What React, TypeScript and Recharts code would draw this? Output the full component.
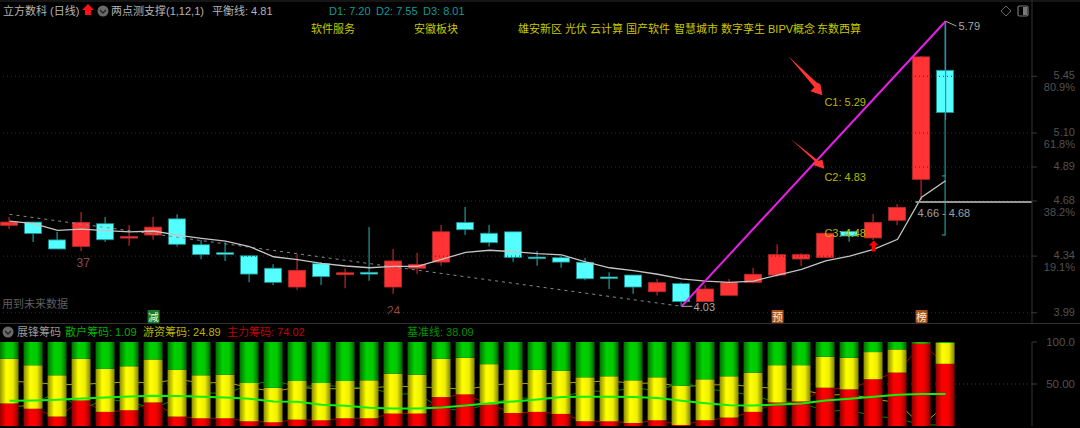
import React from "react";
import { ComposedChart, Bar, Line, XAxis, YAxis, ReferenceLine, ReferenceDot } from "recharts";

const FONT = '"Liberation Sans","Noto Sans CJK SC",sans-serif';

// candles
const opens = [4.53,4.55,4.44,4.40,4.54,4.453,4.47,4.57,4.41,4.361,4.342,4.265,4.149,4.293,4.225,4.24,4.149,4.265,4.303,4.548,4.481,4.49,4.334,4.33,4.302,4.211,4.223,4.12,4.17,4.059,4.098,4.178,4.223,4.322,4.332,4.493,4.452,4.561,4.814,5.487];
const closes = [4.55,4.48,4.384,4.548,4.441,4.461,4.519,4.413,4.349,4.351,4.229,4.178,4.252,4.213,4.237,4.229,4.31,4.289,4.49,4.503,4.423,4.332,4.33,4.303,4.2,4.205,4.149,4.176,4.059,4.137,4.176,4.228,4.349,4.349,4.481,4.464,4.548,4.641,5.57,5.226];
const highs = [4.581,4.55,4.49,4.612,4.581,4.532,4.581,4.598,4.441,4.425,4.342,4.289,4.351,4.303,4.265,4.519,4.384,4.359,4.532,4.643,4.532,4.49,4.371,4.342,4.33,4.24,4.223,4.199,4.178,4.162,4.199,4.268,4.413,4.357,4.481,4.507,4.6,4.661,5.573,5.79];
const lows = [4.507,4.427,4.384,4.371,4.427,4.404,4.441,4.4,4.32,4.31,4.178,4.162,4.133,4.162,4.141,4.188,4.108,4.231,4.281,4.47,4.4,4.305,4.281,4.268,4.191,4.137,4.108,4.096,4.03,4.059,4.098,4.178,4.213,4.279,4.332,4.429,4.439,4.532,4.686,4.47];
const balance = [4.556,4.54,4.499,4.507,4.497,4.49,4.495,4.47,4.45,4.433,4.398,4.336,4.318,4.295,4.279,4.268,4.277,4.277,4.32,4.363,4.376,4.367,4.355,4.347,4.305,4.268,4.25,4.228,4.199,4.186,4.178,4.186,4.223,4.258,4.311,4.34,4.382,4.444,4.703,4.805];

// chips
const mainChip = [26.8,20.4,11.2,30.4,16.8,18.8,28,11.2,9.2,9.2,5.6,4.4,7.6,6.8,9.2,9.2,14.8,14.8,34.4,37.6,25.6,15.6,16.8,14.4,5.6,5.6,3.6,6.8,1.2,6.8,10,16.8,28,29.2,45.6,43.6,55.6,63.6,98,74.02];
const hotChip = [53.2,52,49.2,49.6,51.2,52.4,51.2,55.6,51.2,52,45.6,41.2,46,44.4,44.4,45.2,47.6,46.4,45.6,43.6,48,51.2,50,51.2,52.4,53.6,50.8,51.2,46.8,48.8,49.2,46.8,44.4,43.2,36.8,37.6,32.4,27.6,0.5,24.89];
const retailChip = [20,27.6,39.6,20,32,28.8,20.8,33.2,39.6,38.8,48.8,54.4,46.4,48.8,46.4,45.6,37.6,38.8,20,18.8,26.4,33.2,33.2,34.4,42,40.8,45.6,42,52,44.4,40.8,36.4,27.6,27.6,17.6,18.8,12,8.8,1.5,1.09];
const baseLine = [30,30.4,31.2,32.8,34,35.2,36,35.6,34.8,34,32.4,29.2,28.8,25.2,24,21.6,20.8,20.8,22,24.4,27.2,29.2,31.6,34.4,34.8,34.8,34.4,33.2,30,27.2,24.8,24.4,25.6,26.8,30.4,32.4,34.8,37.2,38,38.09];

const priceTicks = [5.45, 5.1, 4.89, 4.68, 4.34, 3.99];
const fibLabels: Record<string, string> = { "5.45": "80.9%", "5.10": "61.8%", "4.68": "38.2%", "4.34": "19.1%" };
const chipTicks = [100, 50];
const conceptNames = ["软件服务", "安徽板块", "雄安新区", "光伏", "云计算", "国产软件", "智慧城市", "数字孪生", "BIPV概念", "东数西算"];
const conceptX = [311, 414, 518, 565, 590, 626, 674, 721, 768, 817];

const candleData = opens.map((o, i) => ({ i, open: o, close: closes[i], high: highs[i], low: lows[i], balance: balance[i] }));
const chipData = mainChip.map((m, i) => ({ i, main: m, hot: hotChip[i], retail: retailChip[i], base: baseLine[i] }));

const RED = "#ff3333";
const CYAN = "#54ffff";
const LABEL = "#b8b800";
const AXIS = "#525252";

function Candle(p: any) {
  const { x, y, width, height, payload } = p;
  const { open, close, high, low } = payload;
  const k = high === low ? 0 : height / (high - low);
  const top = y + (high - Math.max(open, close)) * k;
  const bot = y + (high - Math.min(open, close)) * k;
  const up = close >= open;
  const cx = x + width / 2;
  return (
    <g>
      <line x1={cx} x2={cx} y1={y} y2={y + height} stroke={up ? "#c42424" : "#1f9a9a"} strokeWidth={1.2} />
      <rect x={x} y={top} width={width} height={Math.max(bot - top, 1.6)} fill={up ? RED : CYAN}
        stroke={up ? "#b82a2a" : "#189090"} strokeWidth={0.8} />
    </g>
  );
}

function PriceTick(p: any) {
  const { y, payload } = p;
  const key = payload.value.toFixed(2);
  return (
    <g fontFamily={FONT} fontSize={11} fill={AXIS} textAnchor="end">
      <line x1={1032} x2={1037} y1={y} y2={y} stroke="#3a3a3a" />
      <text x={1075} y={y + 3}>{key}</text>
      {fibLabels[key] ? <text x={1075} y={y + 15}>{fibLabels[key]}</text> : null}
    </g>
  );
}

function ChipTick(p: any) {
  const { y, payload } = p;
  return (
    <g fontFamily={FONT} fontSize={11.5} fill={AXIS} textAnchor="end">
      <line x1={1032} x2={1037} y1={y} y2={y} stroke="#3a3a3a" />
      <text x={1075} y={y + 4}>{payload.value === 100 ? "100.0" : "50.00"}</text>
    </g>
  );
}

const tag = (text: string, dx: number, dy: number, color: string, size = 11) => (p: any) => (
  <text x={p.cx + dx} y={p.cy + dy} fill={color} fontSize={size} fontFamily={FONT}>{text}</text>
);
const poly = (pts: number[][], color: string) => (p: any) => (
  <polygon points={pts.map(([a, b]) => `${p.cx + a},${p.cy + b}`).join(" ")} fill={color} />
);
const badge = (text: string, bg: string, fg: string) => (p: any) => (
  <g>
    <rect x={p.cx - 6} y={310} width={12} height={13} fill={bg} rx={1} />
    <text x={p.cx} y={320.5} fill={fg} fontSize={10.5} textAnchor="middle" fontFamily={FONT}>{text}</text>
  </g>
);
const clippedLabel = (text: string) => (p: any) => (
  <svg x={p.cx - 10} y={305} width={20} height={9} style={{ overflow: "hidden" }}>
    <text x={10} y={10} fill="#8c4a4a" fontSize={12} textAnchor="middle" fontFamily={FONT}>{text}</text>
  </svg>
);

const T = ({ x, y, c, s = 11, children }: any) => (
  <text x={x} y={y} fill={c} fontSize={s} fontFamily={FONT}>{children}</text>
);
const Icon = ({ x, y }: any) => (
  <g>
    <circle cx={x} cy={y} r={5.5} fill="#6a6a6a" />
    <path d={`M${x - 3} ${y - 1}L${x} ${y + 2}L${x + 3} ${y - 1}`} stroke="#222" strokeWidth={1.4} fill="none" />
  </g>
);

const none = { r: 0 };
const chipMargin = { top: 19, right: 0, bottom: 2, left: 0 };

export default function App() {
  return (
    <div style={{ position: "fixed", left: 0, top: 0, width: 1080, height: 428, background: "#000", overflow: "hidden" }}>
      <div style={{ position: "absolute", left: 0, top: 0 }}>
        <ComposedChart width={1080} height={323} data={candleData} margin={{ top: 0, right: 0, bottom: 0, left: 0 }}>
          <XAxis dataKey="i" type="number" domain={[-0.4, 42.6]} hide allowDataOverflow />
          <YAxis orientation="right" width={48} domain={[3.927, 5.921]} allowDataOverflow ticks={priceTicks}
            tick={PriceTick} tickLine={false} axisLine={{ stroke: "#333" }} interval={0} />
          {priceTicks.map((t) => (
            <ReferenceLine key={t} y={t} stroke="#303030" strokeDasharray="1 3" />
          ))}
          <Bar dataKey={(d: any) => [d.low, d.high]} barSize={17} shape={Candle} isAnimationActive={false} />
          <ReferenceLine segment={[{ x: -0.0, y: 4.598 }, { x: 28, y: 4.03 }]} stroke="#8a8a8a" strokeDasharray="3 4" ifOverflow="visible" />
          <Line dataKey="balance" stroke="#c4c4c4" strokeWidth={1.3} dot={false} activeDot={false} isAnimationActive={false} />
          <ReferenceLine segment={[{ x: 39, y: 5.79 }, { x: 39, y: 5.18 }]} stroke="#8060c8" strokeWidth={1.2} ifOverflow="visible" />
          <ReferenceLine segment={[{ x: 38.85, y: 4.835 }, { x: 39, y: 4.835 }]} stroke="#1f9a9a" strokeWidth={1.2} ifOverflow="visible" />
          <ReferenceLine segment={[{ x: 38.85, y: 4.47 }, { x: 39, y: 4.47 }]} stroke="#1f9a9a" strokeWidth={1.2} ifOverflow="visible" />
          <ReferenceLine segment={[{ x: 37.75, y: 4.674 }, { x: 42.6, y: 4.674 }]} stroke="#969696" strokeWidth={2} ifOverflow="visible" />
          <ReferenceLine segment={[{ x: 28, y: 4.03 }, { x: 39, y: 5.79 }]} stroke="#e81ee8" strokeWidth={2} ifOverflow="visible" />
          <ReferenceLine segment={[{ x: 39, y: 5.79 }, { x: 39.45, y: 5.76 }]} stroke="#aaa" ifOverflow="visible" />
          <ReferenceLine segment={[{ x: 28, y: 4.03 }, { x: 28.45, y: 4.03 }]} stroke="#aaa" ifOverflow="visible" />
          <ReferenceDot x={39} y={5.79} {...none} ifOverflow="visible" shape={tag("5.79", 13, 9, "#a8a8a8")} />
          <ReferenceDot x={28} y={4.03} {...none} ifOverflow="visible" shape={tag("4.03", 12, 5, "#a8a8a8")} />
          <ReferenceDot x={37.75} y={4.674} {...none} ifOverflow="visible" shape={tag("4.66 - 4.68", 2, 15, "#a0a0a0")} />
          <ReferenceDot x={33.95} y={5.29} {...none} ifOverflow="visible" shape={tag("C1: 5.29", 0, 4, LABEL)} />
          <ReferenceDot x={33.95} y={4.83} {...none} ifOverflow="visible" shape={tag("C2: 4.83", 0, 4, LABEL)} />
          <ReferenceDot x={33.95} y={4.48} {...none} ifOverflow="visible" shape={tag("C3: 4.48", 0, 4, LABEL)} />
          <ReferenceDot x={33.95} y={5.29} {...none} ifOverflow="visible"
            shape={poly([[-36, -46], [-8, -20], [-4, -18], [-2, -7], [-14, -11], [-10, -15]], "#ff3333")} />
          <ReferenceDot x={33.95} y={4.83} {...none} ifOverflow="visible"
            shape={poly([[-34, -38], [-6, -16], [-2, -17], [0, -8], [-12, -12], [-9, -15]], "#ff3333")} />
          <ReferenceDot x={36} y={4.4} {...none} ifOverflow="visible"
            shape={poly([[0, -6], [5, -1], [2, -1], [2, 5], [-2, 5], [-2, -1], [-5, -1]], "#ff0000")} />
          <ReferenceDot x={3} y={4.3} {...none} ifOverflow="visible" shape={tag("37", -5, 4, "#8c4a4a", 12)} />
          <ReferenceDot x={16} y={4.0} {...none} ifOverflow="visible" shape={clippedLabel("24")} />
          <ReferenceDot x={6} y={4.0} {...none} ifOverflow="visible" shape={badge("减", "#1c7a2a", "#d8ffd8")} />
          <ReferenceDot x={32} y={4.0} {...none} ifOverflow="visible" shape={badge("预", "#a4521e", "#ffe8d0")} />
          <ReferenceDot x={38} y={4.0} {...none} ifOverflow="visible" shape={badge("榜", "#a4521e", "#ffe8d0")} />
        </ComposedChart>
      </div>

      {/* thin chip lines sit behind the bars */}
      <div style={{ position: "absolute", left: 0, top: 323 }}>
        <ComposedChart width={1080} height={105} data={chipData} margin={chipMargin}>
          <XAxis dataKey="i" type="number" domain={[-0.4, 42.6]} hide allowDataOverflow />
          <YAxis orientation="right" width={48} domain={[0, 100]} ticks={chipTicks} tick={ChipTick}
            tickLine={false} axisLine={{ stroke: "#333" }} interval={0} />
          <ReferenceLine y={50} stroke="#3c3c3c" strokeDasharray="1 3" />
          <Line dataKey="hot" stroke="#a8a800" strokeWidth={1} dot={false} activeDot={false} isAnimationActive={false} />
          <Line dataKey="main" stroke="#a80000" strokeWidth={1} dot={false} activeDot={false} isAnimationActive={false} />
          <Line dataKey="retail" stroke="#008800" strokeWidth={1} dot={false} activeDot={false} isAnimationActive={false} />
        </ComposedChart>
      </div>

      <div style={{ position: "absolute", left: 0, top: 323 }}>
        <ComposedChart width={1080} height={105} data={chipData} margin={{ ...chipMargin, right: 48 }}>
          <defs>
            <linearGradient id="gRed" x1="0" x2="1" y1="0" y2="0">
              <stop offset="0" stopColor="#8c0000" /><stop offset="0.35" stopColor="#ff0000" />
              <stop offset="0.7" stopColor="#f00000" /><stop offset="1" stopColor="#800000" />
            </linearGradient>
            <linearGradient id="gYellow" x1="0" x2="1" y1="0" y2="0">
              <stop offset="0" stopColor="#8c8c00" /><stop offset="0.35" stopColor="#ffff00" />
              <stop offset="0.7" stopColor="#f0f000" /><stop offset="1" stopColor="#808000" />
            </linearGradient>
            <linearGradient id="gGreen" x1="0" x2="1" y1="0" y2="0">
              <stop offset="0" stopColor="#007000" /><stop offset="0.35" stopColor="#00d000" />
              <stop offset="0.7" stopColor="#00c800" /><stop offset="1" stopColor="#006000" />
            </linearGradient>
          </defs>
          <XAxis dataKey="i" type="number" domain={[-0.4, 42.6]} hide allowDataOverflow />
          <YAxis orientation="right" domain={[0, 100]} hide />
          <Bar dataKey="main" stackId="s" barSize={19} fill="url(#gRed)" isAnimationActive={false} />
          <Bar dataKey="hot" stackId="s" barSize={19} fill="url(#gYellow)" isAnimationActive={false} />
          <Bar dataKey="retail" stackId="s" barSize={19} fill="url(#gGreen)" isAnimationActive={false} />
          <Line dataKey="base" stroke="#10f010" strokeWidth={2} dot={false} activeDot={false} isAnimationActive={false} />
        </ComposedChart>
      </div>

      <svg width={1080} height={428} style={{ position: "absolute", left: 0, top: 0, pointerEvents: "none" }}>
        <line x1={0} x2={1080} y1={1} y2={1} stroke="#2a2a2a" />
        <line x1={0} x2={1080} y1={323.5} y2={323.5} stroke="#333" />
        <T x={3} y={15} c="#b4b4b4">立方数科 (日线)</T>
        <polygon points="88,4 94,10 91,10 91,15 85,15 85,10 82,10" fill="#ff1010" />
        <Icon x={103} y={11} />
        <T x={111} y={15} c="#b4b4b4">两点测支撑(1,12,1)</T>
        <T x={212} y={15} c="#b4b4b4">平衡线: 4.81</T>
        <T x={329} y={15} c="#0f9a9a">D1: 7.20</T>
        <T x={376} y={15} c="#0f9a9a">D2: 7.55</T>
        <T x={423} y={15} c="#0f9a9a">D3: 8.01</T>
        {conceptNames.map((n, i) => (
          <T key={n} x={conceptX[i]} y={33} c="#c8c800">{n}</T>
        ))}
        <T x={2} y={308} c="#5e5e5e">用到未来数据</T>
        <polygon points="1006,6 1011,11 1006,16 1001,11" fill="none" stroke="#666" />
        <rect x={1018} y={6} width={10} height={10} rx={1.5} fill="none" stroke="#777" strokeWidth={1.2} />
        <rect x={1023} y={7} width={4} height={8} fill="#777" />
        <Icon x={8} y={332} />
        <T x={17} y={336} c="#9a9a9a">展锋筹码</T>
        <T x={65} y={336} c="#00b000">散户筹码: 1.09</T>
        <T x={143} y={336} c="#b8b800">游资筹码: 24.89</T>
        <T x={227} y={336} c="#c00000">主力筹码: 74.02</T>
        <T x={407} y={336} c="#009000">基准线: 38.09</T>
      </svg>
    </div>
  );
}
